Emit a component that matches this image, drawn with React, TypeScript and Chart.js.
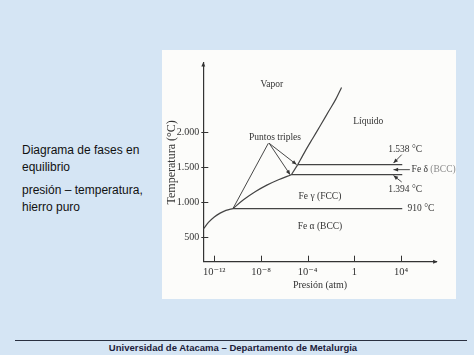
import { useEffect, useRef } from "react";
import { Chart, registerables } from "chart.js";

Chart.register(...registerables);

// ---- axis ticks (x = log10 of pressure in atm, y = temperature in °C)
const xTickValues = [-12, -8, -4, 0, 4];
const xTickLabels = ["10⁻¹²", "10⁻⁸", "10⁻⁴", "1", "10⁴"];
const yTickValues = [500, 1000, 1500, 2000];
const yTickLabels = ["500", "1.000", "1.500", "2.000"];
const xMin = -12.94;
const xMax = 7.05;
const yMin = 151;
const yMax = 2990;

// ---- phase boundaries
const alphaVaporLogP = [-12.94, -12.5, -12, -11.5, -11, -10.4];
const alphaVaporT = [617, 712, 790, 845, 885, 910];
const gammaVaporLogP = [-10.4, -9.5, -8.5, -7.5, -6.5, -5.4];
const gammaVaporT = [910, 1035, 1150, 1245, 1322, 1394];
const deltaVaporLogP = [-5.4, -4.85];
const deltaVaporT = [1394, 1538];
const liquidVaporLogP = [-4.85, -4.2, -3.6, -2.9, -2.2, -1.6, -1.1];
const liquidVaporT = [1538, 1735, 1905, 2100, 2300, 2470, 2640];

// ---- isotherms (phase transformation temperatures)
const isothermT = [910, 1394, 1538];
const isothermStartLogP = [-10.4, -5.4, -4.85];
const isothermEndLogP = [4.1, 4.1, 4.1];

// ---- annotations in data coordinates
const labelTexts = ["Vapor", "Líquido", "Puntos triples", "1.538 °C", "1.394 °C", "910 °C", "Fe γ (FCC)", "Fe α (BCC)", "Fe δ"];
const labelLogP = [-7.08, 1.19, -6.8, 4.35, 4.35, 4.55, -2.95, -2.95, 4.9];
const labelT = [2676, 2151, 1929, 1747, 1176, 910, 1080, 661, 1466];
const labelAlign = ["center", "center", "center", "center", "center", "left", "center", "center", "left"];
const deltaSuffix = "(BCC)";

// arrows: from (logP,T) to (logP,T); head on the "to" end when flagged
const arrowFromLogP = [-7.37, -7.3, -7.3, 4.05, 4.75, 4.05];
const arrowFromT = [1843, 1843, 1843, 1680, 1466, 1290];
const arrowToLogP = [-10.4, -5.5, -4.95, 3.35, 3.35, 3.35];
const arrowToT = [910, 1394, 1538, 1560, 1466, 1382];
const arrowHead = [false, true, true, true, true, true];

const SERIF = "'Liberation Serif', 'DejaVu Serif', serif";
const SANS = "'Liberation Sans', Arial, sans-serif";
const INK = "#333333";

function pts(xs: number[], ys: number[]) {
  return xs.map((x, i) => ({ x, y: ys[i] }));
}

function drawArrowHead(ctx: CanvasRenderingContext2D, x1: number, y1: number, x2: number, y2: number, size: number) {
  const a = Math.atan2(y2 - y1, x2 - x1);
  ctx.beginPath();
  ctx.moveTo(x2, y2);
  ctx.lineTo(x2 - size * Math.cos(a - 0.4), y2 - size * Math.sin(a - 0.4));
  ctx.lineTo(x2 - size * Math.cos(a + 0.4), y2 - size * Math.sin(a + 0.4));
  ctx.closePath();
  ctx.fill();
}

const overlayPlugin = {
  id: "overlay",
  afterDraw(chart: any) {
    const ctx: CanvasRenderingContext2D = chart.ctx;
    const xs = chart.scales.x;
    const ys = chart.scales.y;
    const ax = xs.left;
    const ay = ys.bottom;
    ctx.save();
    ctx.strokeStyle = INK;
    ctx.fillStyle = INK;
    ctx.lineWidth = 1;
    // tick marks
    yTickValues.forEach((v) => {
      const py = Math.round(ys.getPixelForValue(v)) + 0.5;
      ctx.beginPath();
      ctx.moveTo(ax - 2, py);
      ctx.lineTo(ax + 5, py);
      ctx.stroke();
    });
    xTickValues.forEach((v) => {
      const px = Math.round(xs.getPixelForValue(v)) + 0.5;
      ctx.beginPath();
      ctx.moveTo(px, ay);
      ctx.lineTo(px, ay - 6);
      ctx.stroke();
    });
    // axis arrow heads
    drawArrowHead(ctx, ax, ys.top + 10, ax, ys.top - 1, 5);
    drawArrowHead(ctx, xs.right - 10, ay, xs.right + 1, ay, 5);

    // annotation arrows
    ctx.lineWidth = 0.9;
    arrowFromLogP.forEach((fx, i) => {
      const x1 = xs.getPixelForValue(fx);
      const y1 = ys.getPixelForValue(arrowFromT[i]);
      const x2 = xs.getPixelForValue(arrowToLogP[i]);
      const y2 = ys.getPixelForValue(arrowToT[i]);
      ctx.beginPath();
      ctx.moveTo(x1, y1);
      ctx.lineTo(x2, y2);
      ctx.stroke();
      if (arrowHead[i]) drawArrowHead(ctx, x1, y1, x2, y2, 5);
    });

    // labels
    ctx.font = `9.5px ${SERIF}`;
    ctx.textBaseline = "middle";
    labelTexts.forEach((t, i) => {
      const px = xs.getPixelForValue(labelLogP[i]);
      const py = ys.getPixelForValue(labelT[i]);
      ctx.textAlign = labelAlign[i] as CanvasTextAlign;
      ctx.fillStyle = INK;
      ctx.fillText(t, px, py);
      if (t === "Fe δ") {
        const w = ctx.measureText(t + " ").width;
        ctx.textAlign = "left";
        ctx.fillStyle = "#8a8a8a";
        ctx.fillText(deltaSuffix, px + w, py);
      }
    });
    ctx.restore();
  },
};

export default function App() {
  const canvasRef = useRef<HTMLCanvasElement | null>(null);

  useEffect(() => {
    if (!canvasRef.current) return;
    const line = { borderColor: "#444444", borderWidth: 1.2, pointRadius: 0, fill: false };
    const chart = new Chart(canvasRef.current, {
      type: "line",
      data: {
        datasets: [
          { ...line, data: pts(alphaVaporLogP, alphaVaporT), tension: 0.4, cubicInterpolationMode: "monotone" },
          { ...line, data: pts(gammaVaporLogP, gammaVaporT), tension: 0.4, cubicInterpolationMode: "monotone" },
          { ...line, data: pts(deltaVaporLogP, deltaVaporT), tension: 0 },
          { ...line, data: pts(liquidVaporLogP, liquidVaporT), tension: 0.4, cubicInterpolationMode: "monotone" },
          ...isothermT.map((t, i) => ({
            ...line,
            tension: 0,
            data: [
              { x: isothermStartLogP[i], y: t },
              { x: isothermEndLogP[i], y: t },
            ],
          })),
        ] as any,
      },
      options: {
        animation: false,
        responsive: false,
        devicePixelRatio: 1,
        layout: { padding: { left: 0, right: 19.3, top: 13, bottom: 0 } },
        plugins: { legend: { display: false }, tooltip: { enabled: false } },
        scales: {
          x: {
            type: "linear",
            min: xMin,
            max: xMax,
            grid: { display: false, drawTicks: false },
            border: { display: true, color: INK, width: 1.2 },
            afterBuildTicks: (s: any) => {
              s.ticks = xTickValues.map((v) => ({ value: v }));
            },
            afterFit: (s: any) => {
              s.height = 37.3;
            },
            ticks: {
              autoSkip: false,
              maxRotation: 0,
              padding: 4,
              color: INK,
              font: { family: SERIF, size: 10.5 },
              callback: (_v: any, i: number) => xTickLabels[i],
            },
            title: {
              display: true,
              text: "Presión (atm)",
              color: INK,
              font: { family: SERIF, size: 10 },
              padding: { top: 0, bottom: 8 },
            },
          },
          y: {
            type: "linear",
            min: yMin,
            max: yMax,
            grid: { display: false, drawTicks: false },
            border: { display: true, color: INK, width: 1.2 },
            afterBuildTicks: (s: any) => {
              s.ticks = yTickValues.map((v) => ({ value: v }));
            },
            afterFit: (s: any) => {
              s.width = 41.3;
            },
            ticks: {
              autoSkip: false,
              padding: 4,
              color: INK,
              font: { family: SERIF, size: 10 },
              callback: (_v: any, i: number) => yTickLabels[i],
            },
            title: {
              display: true,
              text: "Temperatura (°C)",
              color: INK,
              font: { family: SERIF, size: 12 },
              padding: { top: 3, bottom: 0 },
            },
          },
        },
      } as any,
      plugins: [overlayPlugin],
    });
    return () => chart.destroy();
  }, []);

  const textLine = (top: number, text: string) => (
    <div
      style={{
        position: "absolute",
        left: 22,
        top,
        fontFamily: SANS,
        fontSize: 12,
        lineHeight: "16px",
        color: "#111",
        whiteSpace: "nowrap",
      }}
    >
      {text}
    </div>
  );

  return (
    <div
      style={{
        position: "absolute",
        left: 0,
        top: 0,
        width: 474,
        height: 355,
        background: "#d5e5f4",
        overflow: "hidden",
      }}
    >
      {textLine(142, "Diagrama de fases en")}
      {textLine(159, "equilibrio")}
      {textLine(182, "presión – temperatura,")}
      {textLine(199, "hierro puro")}
      <div
        style={{
          position: "absolute",
          left: 162,
          top: 50,
          width: 294,
          height: 249,
          background: "#fcfcfa",
        }}
      >
        <canvas ref={canvasRef} width={294} height={249} style={{ display: "block", width: 294, height: 249 }} />
      </div>
      <div
        style={{
          position: "absolute",
          left: 15,
          top: 340,
          width: 452,
          height: 0,
          borderTop: "1px solid #2a3040",
        }}
      />
      <div
        style={{
          position: "absolute",
          left: 0,
          top: 342,
          width: 466,
          textAlign: "center",
          fontFamily: SANS,
          fontWeight: "bold",
          fontSize: 9.5,
          lineHeight: "12px",
          color: "#1c1c3a",
        }}
      >
        Universidad de Atacama – Departamento de Metalurgia
      </div>
    </div>
  );
}
